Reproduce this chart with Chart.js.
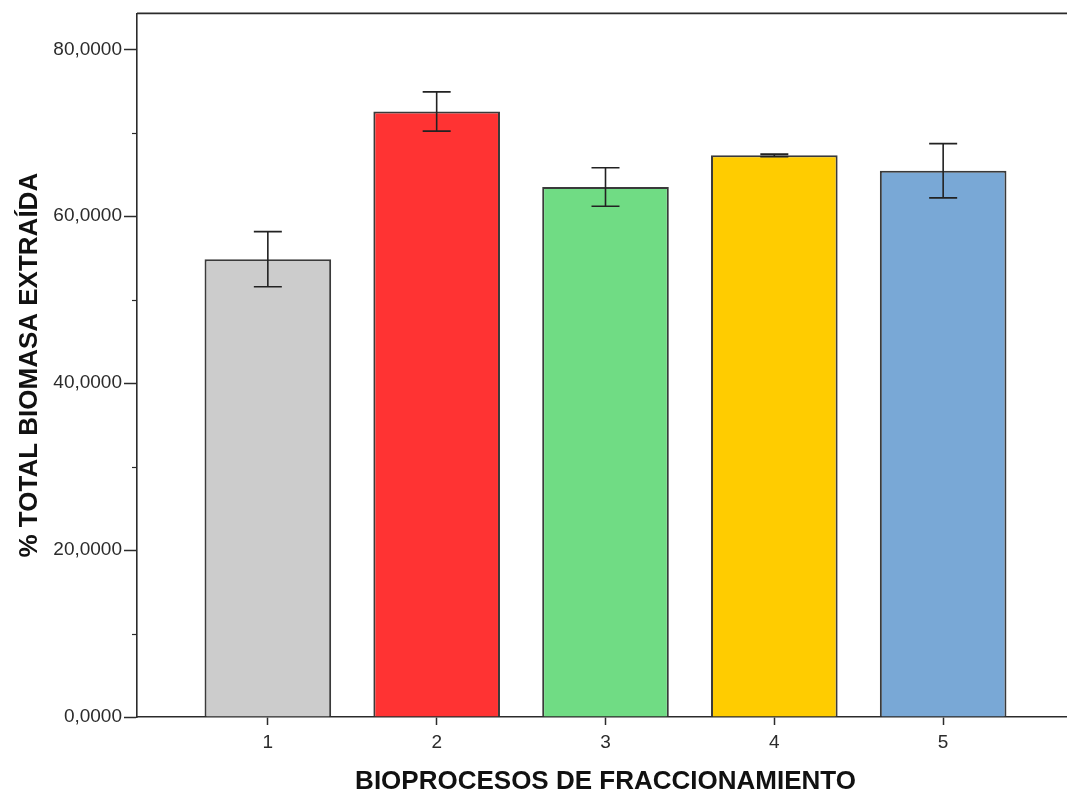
<!DOCTYPE html>
<html>
<head>
<meta charset="utf-8">
<script src="https://cdn.jsdelivr.net/npm/chart.js@4.4.1/dist/chart.umd.min.js"></script>
<style>
  html, body { margin: 0; padding: 0; overflow: hidden; background: #fff; }
  #wrap { width: 1080px; height: 797px; }
</style>
</head>
<body>
<div id="wrap"><canvas id="c"></canvas></div>
<script>
// Bioprocess groups and mean % of total biomass extracted, with error half-widths
const categories = [1, 2, 3, 4, 5];
const means = [54.85, 72.55, 63.50, 67.29, 65.45];
const errors = [3.3, 2.35, 2.3, 0.15, 3.25];
const barColors = ['#CCCCCC', '#FF3333', '#70DC84', '#FFCC00', '#79A8D6'];
const yTicks = [0, 10, 20, 30, 40, 50, 60, 70, 80];
const yLabelled = [0, 20, 40, 60, 80];

const FONT = '"Liberation Sans", Arial, sans-serif';
const INK = '#2b2b2b';

// Error bars, frame top line and short minor ticks on the value axis
const extras = {
  id: 'extras',
  afterDatasetsDraw(chart) {
    const { ctx, scales: { x, y } } = chart;
    ctx.save();
    ctx.strokeStyle = '#222';
    ctx.lineWidth = 1.6;
    categories.forEach((c, i) => {
      const px = x.getPixelForValue(c);
      const top = y.getPixelForValue(means[i] + errors[i]);
      const bot = y.getPixelForValue(means[i] - errors[i]);
      ctx.beginPath();
      ctx.moveTo(px, top); ctx.lineTo(px, bot);
      ctx.moveTo(px - 14, top); ctx.lineTo(px + 14, top);
      ctx.moveTo(px - 14, bot); ctx.lineTo(px + 14, bot);
      ctx.stroke();
    });
    ctx.restore();
  },
  afterDraw(chart) {
    const { ctx, chartArea, scales: { y } } = chart;
    ctx.save();
    ctx.strokeStyle = INK;
    ctx.lineWidth = 1.6;
    ctx.beginPath();
    ctx.moveTo(chartArea.left, chartArea.top);
    ctx.lineTo(chartArea.right, chartArea.top);
    ctx.stroke();
    ctx.lineWidth = 1.2;
    yTicks.filter(v => !yLabelled.includes(v)).forEach(v => {
      const py = Math.round(y.getPixelForValue(v)) + 0.5;
      ctx.beginPath();
      ctx.moveTo(chartArea.left - 5, py);
      ctx.lineTo(chartArea.left, py);
      ctx.stroke();
    });
    ctx.restore();
  }
};

new Chart(document.getElementById('c'), {
  type: 'bar',
  data: {
    datasets: [{
      data: categories.map((c, i) => ({ x: c, y: means[i] })),
      backgroundColor: barColors,
      borderColor: '#3a3a3a',
      borderWidth: 2,
      categoryPercentage: 1,
      barPercentage: 0.75
    }]
  },
  options: {
    responsive: true,
    maintainAspectRatio: false,
    animation: false,
    layout: { padding: { top: 12, right: 6, left: 0, bottom: 0 } },
    plugins: { legend: { display: false }, tooltip: { enabled: false } },
    scales: {
      x: {
        type: 'linear',
        offset: false,
        min: 0.225,
        max: 5.775,
        afterBuildTicks: s => { s.ticks = categories.map(v => ({ value: v })); },
        afterFit: s => { s.height = 80; },
        ticks: {
          color: INK,
          font: { family: FONT, size: 19 },
          padding: 6,
          callback: v => String(v)
        },
        grid: { offset: false, drawOnChartArea: false, tickLength: 8, tickColor: INK, tickWidth: 1.5 },
        border: { color: INK, width: 1.6 },
        title: {
          display: true,
          text: 'BIOPROCESOS DE FRACCIONAMIENTO',
          color: '#111',
          font: { family: FONT, size: 26, weight: 'bold' },
          padding: { top: 10, bottom: 0 }
        }
      },
      y: {
        min: 0,
        max: 84.3,
        afterBuildTicks: s => { s.ticks = yTicks.map(v => ({ value: v })); },
        afterFit: s => { s.width = 137; },
        ticks: {
          color: INK,
          font: { family: FONT, size: 19 },
          padding: 2,
          callback: v => yLabelled.includes(v) ? v.toFixed(4).replace('.', ',') : ''
        },
        grid: {
          drawOnChartArea: false,
          tickLength: 13,
          tickWidth: 1.5,
          tickColor: c => yLabelled.includes(c.tick.value) ? INK : 'rgba(0,0,0,0)'
        },
        border: { color: INK, width: 1.6 },
        title: {
          display: true,
          text: '% TOTAL BIOMASA EXTRAÍDA',
          color: '#111',
          font: { family: FONT, size: 26, weight: 'bold' },
          padding: { top: 14, bottom: 6 }
        }
      }
    }
  },
  plugins: [extras]
});
</script>
</body>
</html>
